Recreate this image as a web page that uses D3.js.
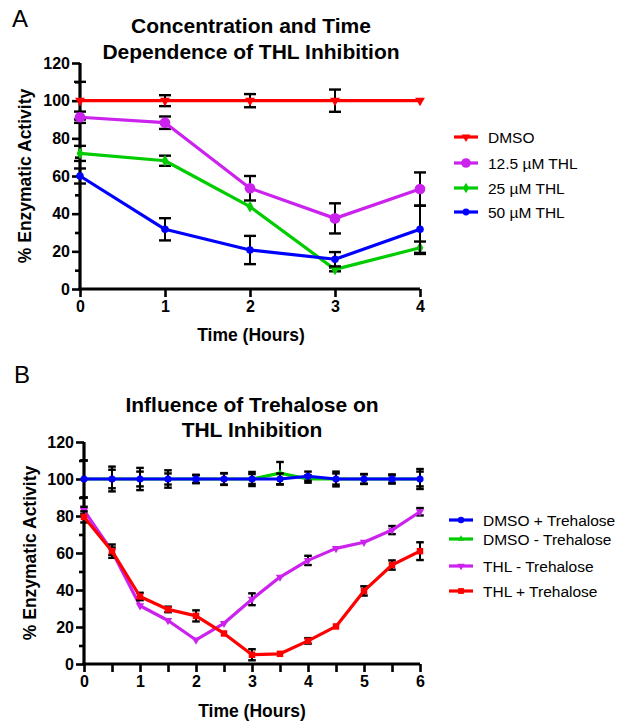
<!DOCTYPE html>
<html>
<head>
<meta charset="utf-8">
<script src="https://cdn.jsdelivr.net/npm/d3@7"></script>
<style>
  html, body { margin: 0; padding: 0; background: #fff; }
  svg { display: block; font-family: "Liberation Sans", Arial, Helvetica, sans-serif; }
</style>
</head>
<body>
<svg id="chart" width="625" height="728"></svg>
<script>
// ---------- Panel A data ----------
const timeA = [0, 1, 2, 3, 4];
const dmsoA = [100, 100, 100, 100, 100];
const dmsoAErr = [10, 2.9, 3.5, 5.9, 0];
const thl125 = [91.2, 88.3, 53.5, 37.5, 53.1];
const thl125Err = [3, 3.3, 6.5, 8, 8.8];
const thl25 = [72, 68.1, 43.7, 10.4, 21.9];
const thl25Err = [4, 2.7, 0, 1, 3.3];
const thl50 = [60, 31.7, 20.7, 15.8, 31.7];
const thl50Err = [4, 5.9, 7.5, 3.8, 12.5];
const seriesNamesA = ["DMSO", "12.5 µM THL", "25 µM THL", "50 µM THL"];

// ---------- Panel B data ----------
const timeB = [0, 0.5, 1, 1.5, 2, 2.5, 3, 3.5, 4, 4.5, 5, 5.5, 6];
const dmsoPlus = [100, 100, 100, 100, 100, 100, 100, 100, 101.5, 100, 100, 100, 100];
const dmsoPlusErr = [10, 6.7, 6, 4.7, 2.3, 3.2, 3.8, 3, 2.5, 4, 2.7, 2.5, 5.4];
const dmsoMinus = [100, 100, 100, 100, 100, 100, 100, 103.2, 100, 100, 100, 100, 100];
const dmsoMinusErr = [10, 5, 4, 3, 2, 3, 2.7, 6, 2, 3, 2.5, 2, 4];
const thlMinus = [83, 61, 31.5, 23.5, 13, 22, 35, 47, 56, 62.5, 65.8, 72.4, 82.3];
const thlMinusErr = [2, 2, 0, 0, 0, 0, 3.2, 0, 2.5, 0, 0, 2.2, 2];
const thlPlus = [79.5, 61, 36.5, 29.5, 26, 16.5, 5, 5.5, 12.5, 20.3, 39.5, 53.5, 61];
const thlPlusErr = [3, 3.6, 2, 1.5, 3, 0, 3, 0, 1.5, 0, 2.5, 2.5, 4.8];
const seriesNamesB = ["DMSO + Trehalose", "DMSO - Trehalose", "THL - Trehalose", "THL + Trehalose"];

const yTicks = [0, 20, 40, 60, 80, 100, 120];
const yMinor = [10, 30, 50, 70, 90, 110];

const svg = d3.select("#chart");
const FONT = '"Liberation Sans", Arial, Helvetica, sans-serif';

function sym(type, size, rot) {
  const p = d3.symbol().type(type).size(size)();
  return { path: p, rot: rot || 0 };
}

function drawPanel(cfg) {
  const g = svg.append("g");
  const x = cfg.x, y = cfg.y;

  // axes
  const yAxis = d3.axisLeft(y).tickValues(yTicks).tickSize(8).tickSizeOuter(0).tickPadding(2);
  const yAxisMinor = d3.axisLeft(y).tickValues(yMinor).tickSize(5).tickFormat("");
  const xAxis = d3.axisBottom(x).tickValues(cfg.xTicks).tickSize(8).tickSizeOuter(0).tickPadding(4)
    .tickFormat(d => Number.isInteger(d) ? d : "");

  const ya = g.append("g").attr("transform", `translate(${x.range()[0]},0)`).call(yAxis);
  const ym = g.append("g").attr("transform", `translate(${x.range()[0]},0)`).call(yAxisMinor);
  ym.select(".domain").remove();
  const xa = g.append("g").attr("transform", `translate(0,${y.range()[0]})`).call(xAxis);

  [ya, ym, xa].forEach(a => {
    a.selectAll("path.domain").attr("stroke", "#000").attr("stroke-width", 3.2);
    a.selectAll(".tick line").attr("stroke", "#000").attr("stroke-width", 2.6);
    a.selectAll(".tick text").attr("fill", "#000").attr("font-size", 16).attr("font-weight", "bold")
      .attr("font-family", FONT);
  });
  // extend domain ends so the corner is square
  ya.select(".domain").attr("d", `M0,${y(120)}V${y(0) + 1.6}`);
  xa.select(".domain").attr("d", `M${x.range()[0] - 1.6},0H${x.range()[1]}`);

  // series
  cfg.series.forEach(s => {
    const pts = cfg.time.map((t, i) => ({ t, v: s.values[i], e: s.err[i] }));
    // error bars
    const eb = g.append("g").attr("stroke", "#000").attr("stroke-width", 2).attr("fill", "none");
    pts.filter(p => p.e > 0).forEach(p => {
      const cx = x(p.t), y1 = y(p.v + p.e), y2 = y(p.v - p.e);
      eb.append("line").attr("x1", cx).attr("x2", cx).attr("y1", y1).attr("y2", y2);
      eb.append("line").attr("x1", cx - cfg.cap).attr("x2", cx + cfg.cap).attr("y1", y1).attr("y2", y1).attr("stroke-width", 2.4);
      eb.append("line").attr("x1", cx - cfg.cap).attr("x2", cx + cfg.cap).attr("y1", y2).attr("y2", y2).attr("stroke-width", 2.4);
    });
    g.append("path").datum(pts)
      .attr("fill", "none").attr("stroke", s.color).attr("stroke-width", cfg.lw)
      .attr("stroke-linejoin", "round")
      .attr("d", d3.line().x(p => x(p.t)).y(p => y(p.v)));
    const m = sym(s.sym, s.size);
    g.append("g").selectAll("path").data(pts).join("path")
      .attr("d", m.path)
      .attr("fill", s.color)
      .attr("transform", p => `translate(${x(p.t)},${y(p.v)}) rotate(${s.rot || 0})`);
  });

  // legend
  const lg = g.append("g");
  cfg.series.forEach((s, i) => {
    const ly = cfg.legendY[i];
    lg.append("line").attr("x1", cfg.legendX).attr("x2", cfg.legendX + 24).attr("y1", ly).attr("y2", ly)
      .attr("stroke", s.color).attr("stroke-width", cfg.lw);
    lg.append("path").attr("d", sym(s.sym, s.size * 0.8).path).attr("fill", s.color)
      .attr("transform", `translate(${cfg.legendX + 12},${ly}) rotate(${s.rot || 0})`);
    lg.append("text").attr("x", cfg.legendX + 34).attr("y", ly).attr("dy", "0.36em")
      .attr("font-size", 15.5).attr("font-family", FONT).attr("fill", "#000").text(s.name);
  });

  // titles & labels
  cfg.title.forEach((t, i) => {
    g.append("text").attr("x", cfg.titleX).attr("y", cfg.titleY[i]).attr("text-anchor", "middle")
      .attr("font-size", 21).attr("font-weight", "bold").attr("font-family", FONT).text(t);
  });
  g.append("text").attr("x", cfg.titleX).attr("y", cfg.xLabelY).attr("text-anchor", "middle")
    .attr("font-size", 17.5).attr("font-weight", "bold").attr("font-family", FONT).text("Time (Hours)");
  g.append("text").attr("transform", `translate(${cfg.yLabelX},${cfg.yLabelCY}) rotate(-90)`)
    .attr("text-anchor", "middle").attr("font-size", 17.5).attr("font-weight", "bold")
    .attr("font-family", FONT).text("% Enzymatic Activity");
  g.append("text").attr("x", cfg.letterX).attr("y", cfg.letterY).attr("font-size", 24)
    .attr("font-family", FONT).text(cfg.letter);
}

// Panel A
drawPanel({
  letter: "A", letterX: 12, letterY: 27,
  x: d3.scaleLinear().domain([0, 4]).range([80, 420]),
  y: d3.scaleLinear().domain([0, 120]).range([289, 63]),
  xTicks: [0, 1, 2, 3, 4],
  time: timeA, cap: 6, lw: 3.2,
  series: [
    { name: seriesNamesA[0], values: dmsoA, err: dmsoAErr, color: "#ff0000", sym: d3.symbolTriangle, size: 42, rot: 180 },
    { name: seriesNamesA[1], values: thl125, err: thl125Err, color: "#cc22ee", sym: d3.symbolCircle, size: 90 },
    { name: seriesNamesA[2], values: thl25, err: thl25Err, color: "#00cc00", sym: d3.symbolDiamond, size: 40 },
    { name: seriesNamesA[3], values: thl50, err: thl50Err, color: "#0000ff", sym: d3.symbolCircle, size: 45 }
  ],
  legendX: 454, legendY: [137, 163, 188, 212],
  title: ["Concentration and Time", "Dependence of THL Inhibition"], titleX: 251, titleY: [33, 59],
  xLabelY: 341, yLabelX: 31, yLabelCY: 176
});

// Panel B
drawPanel({
  letter: "B", letterX: 14, letterY: 383,
  x: d3.scaleLinear().domain([0, 6]).range([84, 420]),
  y: d3.scaleLinear().domain([0, 120]).range([664, 442]),
  xTicks: timeB,
  time: timeB, cap: 3.8, lw: 3.2,
  series: [
    { name: seriesNamesB[1], values: dmsoMinus, err: dmsoMinusErr, color: "#00cc00", sym: d3.symbolTriangle, size: 22 },
    { name: seriesNamesB[0], values: dmsoPlus, err: dmsoPlusErr, color: "#0000ff", sym: d3.symbolCircle, size: 40 },
    { name: seriesNamesB[2], values: thlMinus, err: thlMinusErr, color: "#cc22ee", sym: d3.symbolTriangle, size: 30, rot: 180 },
    { name: seriesNamesB[3], values: thlPlus, err: thlPlusErr, color: "#ff0000", sym: d3.symbolSquare, size: 42 }
  ],
  legendX: 449, legendY: [539, 520, 566, 591],
  title: ["Influence of Trehalose on", "THL Inhibition"], titleX: 252, titleY: [412, 437],
  xLabelY: 717, yLabelX: 36, yLabelCY: 553
});
</script>
</body>
</html>
